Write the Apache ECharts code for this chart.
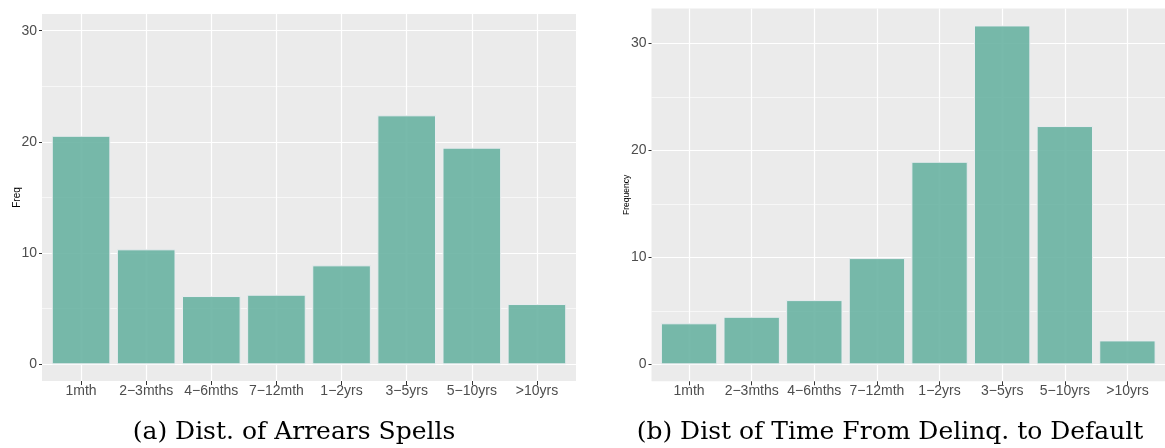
<!DOCTYPE html>
<html>
<head>
<meta charset="utf-8">
<script src="https://cdn.jsdelivr.net/npm/echarts@6/dist/echarts.min.js"></script>
<style>
  html, body { margin: 0; padding: 0; background: #ffffff; }
  #chart { width: 1165px; height: 448px; }
</style>
</head>
<body>
<div id="chart"></div>
<script>
// ---- data ----
const categories = ['1mth', '2\u22123mths', '4\u22126mths', '7\u221212mth', '1\u22122yrs', '3\u22125yrs', '5\u221210yrs', '>10yrs'];
const arrearsFreq = [20.55, 10.34, 6.14, 6.26, 8.9, 22.39, 19.48, 5.42];
const delinqFreq = [3.84, 4.45, 6.01, 9.94, 18.95, 31.7, 22.29, 2.24];
const yTicks = [0, 10, 20, 30];
const captionA = '(a) Dist. of Arrears Spells';
const captionB = '(b) Dist of Time From Delinq. to Default';
const yTitleA = 'Freq';
const yTitleB = 'Frequency';

// ---- chart ----
const catIndex = categories.map((c, i) => i);
const chart = echarts.init(document.getElementById('chart'), null, { renderer: 'canvas' });

const barColor = 'rgba(105,179,162,0.9)';
const panelBg = '#EBEBEB';
const labelFont = 'Liberation Sans';

function makeX(gridIndex) {
  return {
    type: 'value', gridIndex: gridIndex,
    min: -0.6, max: 7.6, minInterval: 1, maxInterval: 1,
    axisLine: { show: false, onZero: false },
    axisTick: { show: true, length: 4, customValues: catIndex, lineStyle: { color: '#333333', width: 1 } },
    axisLabel: {
      show: true, customValues: catIndex, margin: 3,
      color: '#4D4D4D', fontSize: 14, fontFamily: labelFont,
      formatter: v => categories[Math.round(v)]
    },
    splitLine: { show: true, lineStyle: { color: '#FFFFFF', width: 1.2 } }
  };
}

function makeY(gridIndex, min, max, name, nameSize, nameGap) {
  return {
    type: 'value', gridIndex: gridIndex,
    min: min, max: max, minInterval: 10, maxInterval: 10,
    name: name, nameLocation: 'middle', nameRotate: 90, nameGap: nameGap,
    nameMoveOverlap: false,
    nameTextStyle: { color: '#000000', fontSize: nameSize, fontFamily: labelFont },
    axisLine: { show: false, onZero: false },
    axisTick: { show: true, length: 3, customValues: yTicks, lineStyle: { color: '#333333', width: 1 } },
    axisLabel: {
      show: true, customValues: yTicks, margin: 5,
      color: '#4D4D4D', fontSize: 14, fontFamily: labelFont
    },
    splitLine: { show: true, lineStyle: { color: '#FFFFFF', width: 1.2 } },
    minorTick: { show: false, splitNumber: 2 },
    minorSplitLine: { show: true, lineStyle: { color: '#FFFFFF', width: 0.6 } }
  };
}

const option = {
  animation: false,
  backgroundColor: '#FFFFFF',
  grid: [
    { left: 42, right: 589, top: 14, bottom: 67, show: true, backgroundColor: panelBg, borderWidth: 0 },
    { left: 651.5, right: -3, top: 8.5, bottom: 66.7, show: true, backgroundColor: panelBg, borderWidth: 0 }
  ],
  xAxis: [makeX(0), makeX(1)],
  yAxis: [
    makeY(0, -1.5, 31.5, yTitleA, 10, 20),
    makeY(1, -1.585, 33.285, yTitleB, 8.5, 20)
  ],
  series: [
    {
      type: 'bar', xAxisIndex: 0, yAxisIndex: 0, barWidth: '90%',
      data: arrearsFreq.map((v, i) => [i, v]),
      itemStyle: { color: barColor, borderColor: '#E9ECEF', borderWidth: 1 }
    },
    {
      type: 'bar', xAxisIndex: 1, yAxisIndex: 1, barWidth: '90%',
      data: delinqFreq.map((v, i) => [i, v]),
      itemStyle: { color: barColor, borderColor: '#E9ECEF', borderWidth: 1 }
    }
  ],
  graphic: [
    { type: 'text', x: 294, y: 432, style: { text: captionA, fill: '#000000', font: '25px "DejaVu Serif"', textAlign: 'center', textVerticalAlign: 'middle' } },
    { type: 'text', x: 890, y: 432, style: { text: captionB, fill: '#000000', font: '25px "DejaVu Serif"', textAlign: 'center', textVerticalAlign: 'middle' } }
  ]
};
chart.setOption(option);
</script>
</body>
</html>
